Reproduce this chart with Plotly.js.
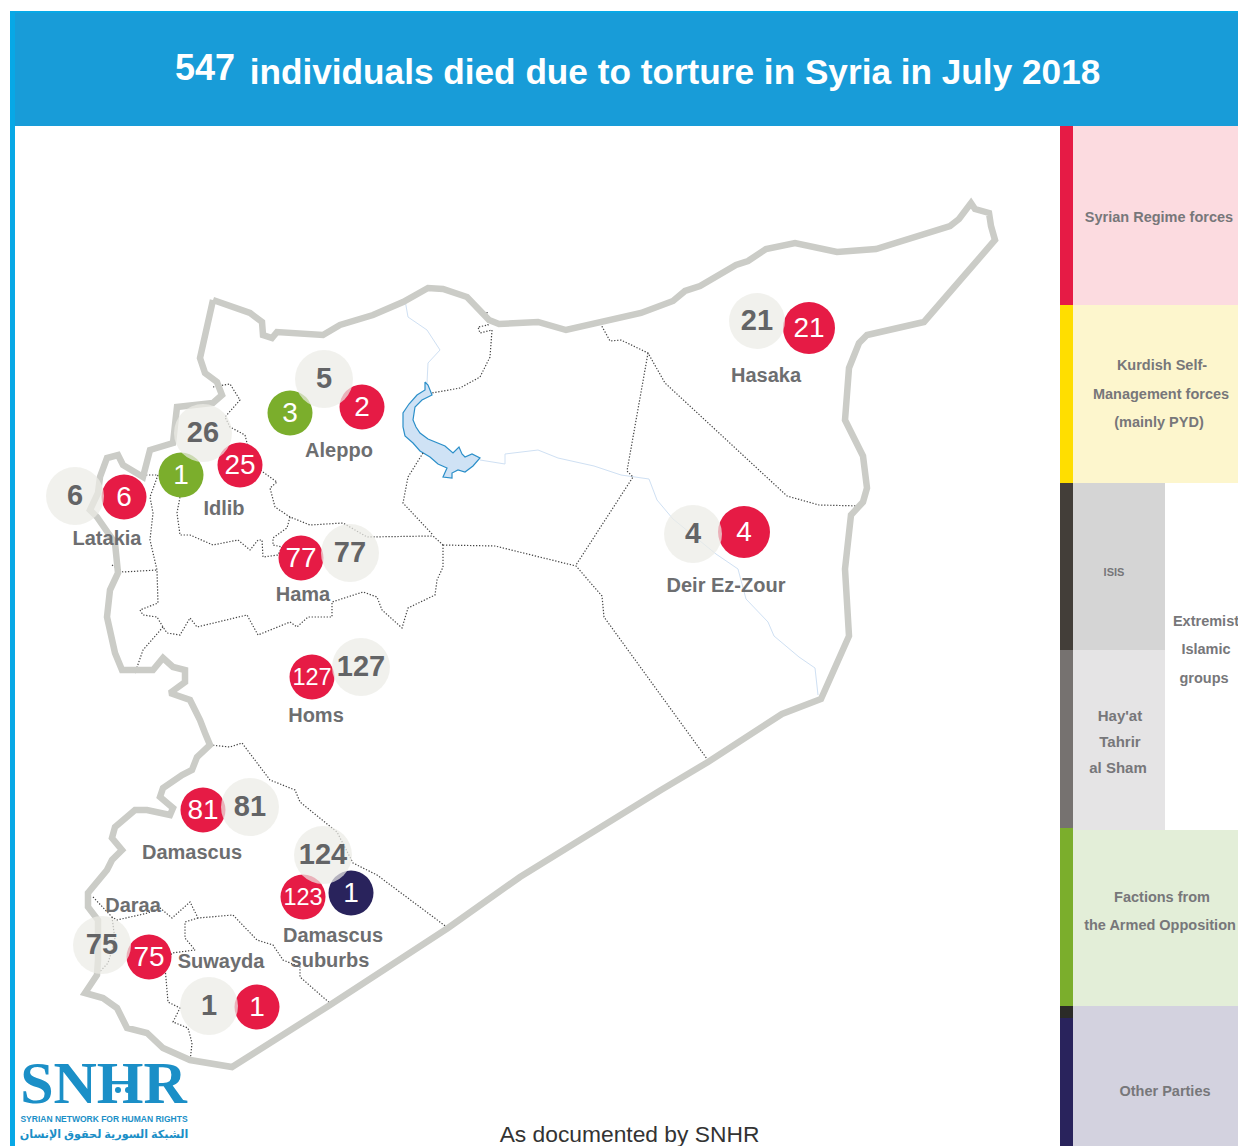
<!DOCTYPE html>
<html><head><meta charset="utf-8">
<script src="https://cdn.plot.ly/plotly-3.0.1.min.js"></script>
<style>html,body{margin:0;padding:0;background:#fff;overflow:hidden}</style></head>
<body><div id="chart" style="width:1238px;height:1146px"></div>
<script>
// ---- values
const titleCount = "547";
const titleText = "individuals died due to torture in Syria in July 2018";
const footerText = "As documented by SNHR";

const regionNames = ["Aleppo","Idlib","Latakia","Hama","Homs","Damascus","Daraa","Suwayda","Damascus","suburbs","Hasaka","Deir Ez-Zour"];
const regionLabelX = [339,224,107,303,316,192,133,221,333,330,766,726];
const regionLabelY = [450,508,538,594,715,852,905,961,935,960,375,585];

// totals per governorate
const totalValues = [5,26,6,77,127,81,124,75,1,21,4];
const totalX = [324,203,75,350,361,250,323,102,209,757,693];
const totalY = [379,433,496,553,667,807,855,945,1006,321,534];

// Syrian Regime forces
const regimeValues = [2,25,6,77,127,81,123,75,1,21,4];
const regimeX = [362,240,124,301,312,203,303,149,257,809,744];
const regimeY = [407,465,497,558,677,810,897,957,1007,328,532];

// Factions from the Armed Opposition
const oppositionValues = [3,1];
const oppositionX = [290,181];
const oppositionY = [413,475];

// Other Parties
const otherValues = [1];
const otherX = [351];
const otherY = [893];

const legendLabels = ["Syrian Regime forces","Kurdish Self-","Management forces","(mainly PYD)","ISIS","Extremist","Islamic","groups","Hay'at","Tahrir","al Sham","Factions from","the Armed Opposition","Other Parties"];
const legendLabelX = [1159,1162,1161,1159,1114,1206,1206,1204,1120,1120,1118,1162,1160,1165];
const legendLabelY = [216,364,393,421,571,620,648,677,715,741,767,896,924,1090];

// ---- map geometry
const borderX = [213,250,262,263,272,277,323,340,373,403,428,443,467,489,499,538,566,641,673,685,700,736,748,766,795,837,876,950,959,971,975,989,991,995,924,867,859,849,845,863,867,863,851,845,849,821,782,708,661,520,448,330,232,190,163,147,127,117,103,85,97,98,98,88,88,107,112,122,112,115,135,147,170,173,160,163,182,192,197,210,205,200,190,170,185,185,173,163,153,122,115,107,110,118,115,97,90,98,100,107,118,123,143,150,173,177,213,222,217,205,200,208,213];
const borderY = [300,313,322,335,338,332,335,325,315,302,288,289,297,320,324,322,330,313,301,291,286,265,261,249,243,252,249,226,219,203,209,213,226,240,322,335,343,368,420,456,488,502,515,569,636,699,714,762,790,877,928,1005,1067,1060,1048,1033,1028,1008,998,993,975,960,920,907,893,870,860,850,838,827,810,810,815,808,797,788,775,770,757,745,733,720,700,693,682,670,667,658,670,670,653,617,590,573,543,517,510,493,477,458,455,465,477,450,443,407,403,395,382,373,358,320,300];

const innerLinesX = [
 [213,230,240,225,230,245,248,257,263,277,270,275,290,310,343,367,433,443],
 [290,287,273,273,282,278,263,262,258,250,238,213,190,180,177,180],
 [143,158,150,153,150,157,158,140,143,157,163,167,180,190,197,247,258,290,297,308,332,332,363,377,382,402,408,435,437,443,443],
 [112,123,157],
 [163,143,135],
 [487,488,478,480,492,490,480,460,432],
 [423,408,403,433],
 [599,610,621,648,665,787,819,861],
 [648,627,633,576],
 [443,495,576,602,604,710],
 [210,230,242,270,295,300,337,353,377,448],
 [93,112,117,148,160,172,190,198,233,257,273,283,300,300,332],
 [198,185,185,195,172,165,168,180,173,188,192,190],
 [112,115,108,95]
];
const innerLinesY = [
 [387,384,400,417,427,435,447,467,472,482,488,507,517,525,523,537,536,545],
 [517,528,538,545,547,555,557,540,540,550,540,545,535,535,513,497],
 [475,475,497,513,540,570,603,610,615,617,627,633,635,618,627,615,635,622,627,617,617,602,592,597,610,628,608,595,580,567,545],
 [565,572,570],
 [627,650,673],
 [312,325,327,333,330,357,377,388,393],
 [453,477,503,535],
 [321,341,340,353,383,496,505,506],
 [353,471,477,565],
 [545,546,566,596,617,763],
 [745,747,743,780,790,802,832,863,875,928],
 [897,917,920,913,908,918,902,918,915,940,945,960,967,977,1005],
 [918,922,938,950,953,967,1002,1008,1022,1028,1043,1062],
 [917,940,963,977]
];

const riverNorthX = [405,408,427,440,428,427];
const riverNorthY = [300,317,330,350,363,383];
const riverEastX = [480,505,505,538,558,594,621,649,657,673,716,738,746,768,774,799,815,818];
const riverEastY = [460,464,454,450,458,466,475,479,500,519,554,569,599,622,636,657,668,695];
const lakeX = [425,428,432,422,415,413,416,420,428,437,445,453,459,462,465,472,480,473,465,458,452,452,443,447,438,430,420,413,405,403,403,409,417,425,425];
const lakeY = [382,385,395,400,407,420,427,433,439,443,446,453,447,454,457,454,458,466,472,470,473,478,477,468,464,457,451,443,436,427,413,404,395,390,382];

// logo people heads
const logoHeadsX = [108,118,128];
const logoHeadsY = [1090,1090,1090];

// ---- page furniture
const band = (x0,y0,x1,y1,c)=>({type:'rect',xref:'x',yref:'y',x0,y0,x1,y1,fillcolor:c,line:{width:0},layer:'below'});
const shapes = [
 band(10,11,1238,126,'#189cd8'), band(10,11,1238,13,'#07a8e6'), band(10,11,15,1146,'#07a8e6'),
 band(1073,126,1238,305,'#fcdbe0'), band(1060,126,1073,305,'#e61b45'),
 band(1073,305,1238,483,'#fdf6cd'), band(1060,305,1073,483,'#ffde00'),
 band(1073,483,1165,650,'#d5d5d5'), band(1060,483,1073,650,'#433e39'),
 band(1073,650,1165,830,'#e5e4e5'), band(1060,650,1073,828,'#767270'),
 band(1073,830,1238,1006,'#e3eed8'), band(1060,828,1073,1006,'#7bae2c'),
 band(1073,1006,1238,1146,'#d3d2df'), band(1060,1018,1073,1146,'#29235c'), band(1060,1006,1073,1018,'#2b2b28')
];

const base = {hoverinfo:'skip',showlegend:false,cliponaxis:true};
const lineTrace = (x,y,color,width,dash)=>Object.assign({type:'scatter',mode:'lines',x,y,line:{color,width,dash:dash||'solid',shape:'linear'}},base);
const bubbles = (x,y,color,size,op)=>Object.assign({type:'scatter',mode:'markers',x,y,marker:{color,size,opacity:op||1,line:{width:0}}},base);
const labels = (x,y,text,color,size,family)=>Object.assign({type:'scatter',mode:'text',x,y:y.map(v=>v+2),text,textposition:'middle center',textfont:{color,size,family:family||'Liberation Sans'}},base);
const bold = s=>'<b>'+s+'</b>';

const regimeSize = regimeValues.map((v,i)=>regimeX[i]>700?52:45);
const whiteSize = v=>v>99?23.5:28;

const traces = [
 lineTrace(riverNorthX,riverNorthY,'#cfe0f3',1),
 lineTrace(riverEastX,riverEastY,'#cfe0f3',1),
 Object.assign({type:'scatter',mode:'lines',x:lakeX,y:lakeY,fill:'toself',fillcolor:'#cfe2f5',line:{color:'#2b8fc9',width:1.2}},base)
];
innerLinesX.forEach((x,i)=>traces.push(lineTrace(x,innerLinesY[i],'#444444',1.2,'1.3px,1.7px')));
traces.push(lineTrace(borderX,borderY,'#cbccc7',6.5));
traces.push(bubbles(regimeX,regimeY,'#e61b45',regimeSize));
traces.push(bubbles(oppositionX,oppositionY,'#7bae2c',45));
traces.push(bubbles(otherX,otherY,'#29235c',45));
traces.push(bubbles(totalX,totalY,'#ebebe6',totalX.map(x=>x>700?56:58),0.72));
traces.push(labels(totalX,totalY,totalValues.map(v=>bold(v)),'#636466',29));
traces.push(labels(regimeX,regimeY,regimeValues.map(String),'#ffffff',regimeValues.map(whiteSize)));
traces.push(labels(oppositionX,oppositionY,oppositionValues.map(String),'#ffffff',28));
traces.push(labels(otherX,otherY,otherValues.map(String),'#ffffff',28));
traces.push(labels(regionLabelX,regionLabelY,regionNames.map(bold),'#6d6e70',20));
traces.push(labels(legendLabelX,legendLabelY,legendLabels.map(bold),'#77777a',legendLabels.map(s=>s==='ISIS'?11:(['Hay\'at','Tahrir','al Sham'].includes(s)?15:14.5))));
traces.push(labels([205],[69],[bold(titleCount)],'#ffffff',36));
traces.push(labels([675],[73],[bold(titleText)],'#ffffff',35.2));
traces.push(labels([629.5],[1134],[footerText],'#333333',22.8));
// SNHR logo
traces.push(labels([103.5],[1086],[bold('SNHR')],'#1b8fc7',60,'Liberation Serif'));
traces.push(bubbles(logoHeadsX,logoHeadsY,'#1b8fc7',6));
traces.push(labels([104],[1118],[bold('SYRIAN NETWORK FOR HUMAN RIGHTS')],'#1b8fc7',8.5));
traces.push(labels([104],[1133],[bold('الشبكة السورية لحقوق الإنسان')],'#1b8fc7',11.2,'Noto Sans, DejaVu Sans'));

const layout = {
 width:1238,height:1146,margin:{l:0,r:0,t:0,b:0},
 paper_bgcolor:'#ffffff',plot_bgcolor:'#ffffff',
 xaxis:{range:[0,1238],visible:false,fixedrange:true},
 yaxis:{range:[1146,0],visible:false,fixedrange:true},
 shapes,showlegend:false,hovermode:false
};
Plotly.newPlot('chart',traces,layout,{displayModeBar:false,staticPlot:true});
</script></body></html>
